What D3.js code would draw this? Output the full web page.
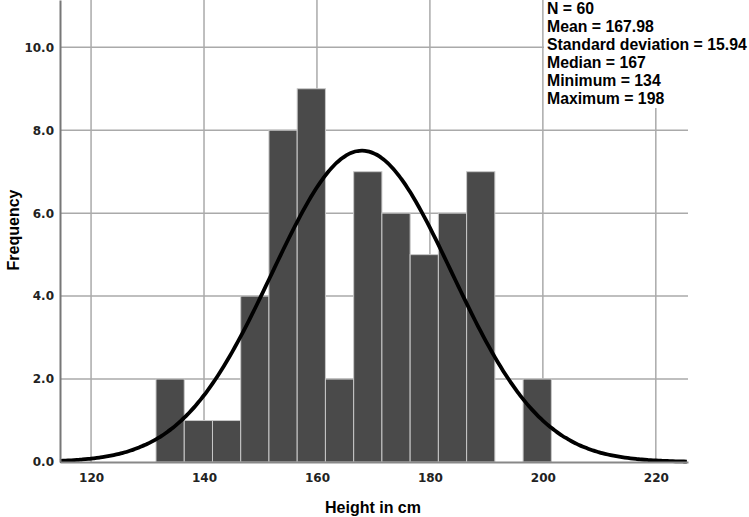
<!DOCTYPE html>
<html>
<head>
	<style>
	body {
		margin: 0;
		background: #fff;
	}
	text { font-family: "Liberation Sans", Arial, sans-serif; }
	.tick text { font-family: "DejaVu Sans", sans-serif; font-weight: bold; font-size: 12px; fill: #222; }
	</style>
</head>
<body>
	<script src="https://d3js.org/d3.v7.min.js"></script>
	<script>
	// bins of width 5 cm starting at 131.5
	var binStarts = [131.5, 136.5, 141.5, 146.5, 151.5, 156.5, 161.5, 166.5, 171.5, 176.5, 181.5, 186.5, 191.5, 196.5];
	var counts = [2, 1, 1, 4, 8, 9, 2, 7, 6, 5, 6, 7, 0, 2];
	var binWidth = 5;
	var xTicks = [120, 140, 160, 180, 200, 220];
	var yTicks = [0, 2, 4, 6, 8, 10];
	var stats = ["N = 60", "Mean = 167.98", "Standard deviation = 15.94", "Median = 167", "Minimum = 134", "Maximum = 198"];
	var nTotal = 60, mean = 167.98, sd = 15.94;

	var width = 749, height = 517;
	var pl = 60, pr = 688, pt = 0, pb = 462;

	var svg = d3.select("body").append("svg")
		.attr("width", width)
		.attr("height", height);

	var x = d3.scaleLinear()
		.domain([114.5, 225.7])
		.range([pl, pr]);

	var y = d3.scaleLinear()
		.domain([0, 11.14])
		.range([pb, pt]);

	// grid
	svg.append("g").selectAll("line")
		.data(yTicks.slice(1))
		.enter().append("line")
			.attr("x1", pl).attr("x2", pr)
			.attr("y1", function(d){ return y(d); })
			.attr("y2", function(d){ return y(d); })
			.style("stroke", "#aaa").style("stroke-width", 1.5);

	svg.append("g").selectAll("line")
		.data(xTicks)
		.enter().append("line")
			.attr("x1", function(d){ return x(d); })
			.attr("x2", function(d){ return x(d); })
			.attr("y1", pt).attr("y2", pb)
			.style("stroke", "#aaa").style("stroke-width", 1.5);

	// bars
	svg.append("g").selectAll("rect")
		.data(counts)
		.enter().append("rect")
			.attr("x", function(d, i){ return x(binStarts[i]); })
			.attr("y", function(d){ return y(d); })
			.attr("width", function(d, i){ return x(binStarts[i] + binWidth) - x(binStarts[i]); })
			.attr("height", function(d){ return pb - y(d); })
			.style("fill", "#4a4a4a")
			.style("stroke", "#c8c8c8")
			.style("stroke-width", 1)
			.style("display", function(d){ return d > 0 ? null : "none"; });

	// normal curve from mean / sd
	var pts = d3.range(114.5, 225.8, 0.5).map(function(v){
		var z = (v - mean) / sd;
		return [v, nTotal * binWidth * Math.exp(-0.5 * z * z) / (sd * Math.sqrt(2 * Math.PI))];
	});
	svg.append("path")
		.datum(pts)
		.attr("d", d3.line()
			.x(function(d){ return x(d[0]); })
			.y(function(d){ return y(d[1]); })
			.curve(d3.curveBasis))
		.style("fill", "none")
		.style("stroke", "#000")
		.style("stroke-width", 3.8);

	// axes
	var xAxis = svg.append("g")
		.attr("transform", "translate(0," + pb + ")")
		.call(d3.axisBottom(x).tickValues(xTicks).tickSize(0).tickPadding(11));
	xAxis.select(".domain").style("stroke", "#888").style("stroke-width", 2);

	var yAxis = svg.append("g")
		.attr("transform", "translate(" + pl + ",0)")
		.call(d3.axisLeft(y).tickValues(yTicks).tickSize(0).tickPadding(6).tickFormat(d3.format(".1f")));
	yAxis.select(".domain").style("stroke", "#777").style("stroke-width", 2);

	// stats box
	svg.append("rect")
		.attr("x", 544).attr("y", 0)
		.attr("width", 205).attr("height", 108)
		.style("fill", "#fff");

	svg.append("g").selectAll("text")
		.data(stats)
		.enter().append("text")
			.attr("x", 547)
			.attr("y", function(d, i){ return 14 + i * 18; })
			.style("font-size", "15.8px")
			.style("font-weight", "bold")
			.text(function(d){ return d; });

	// titles
	svg.append("text")
		.attr("transform", "translate(19,230) rotate(-90)")
		.attr("text-anchor", "middle")
		.style("font-size", "16px")
		.style("font-weight", "bold")
		.text("Frequency");

	svg.append("text")
		.attr("x", 373).attr("y", 513)
		.attr("text-anchor", "middle")
		.style("font-size", "16px")
		.style("font-weight", "bold")
		.text("Height in cm");
	</script>
</body>
</html>
